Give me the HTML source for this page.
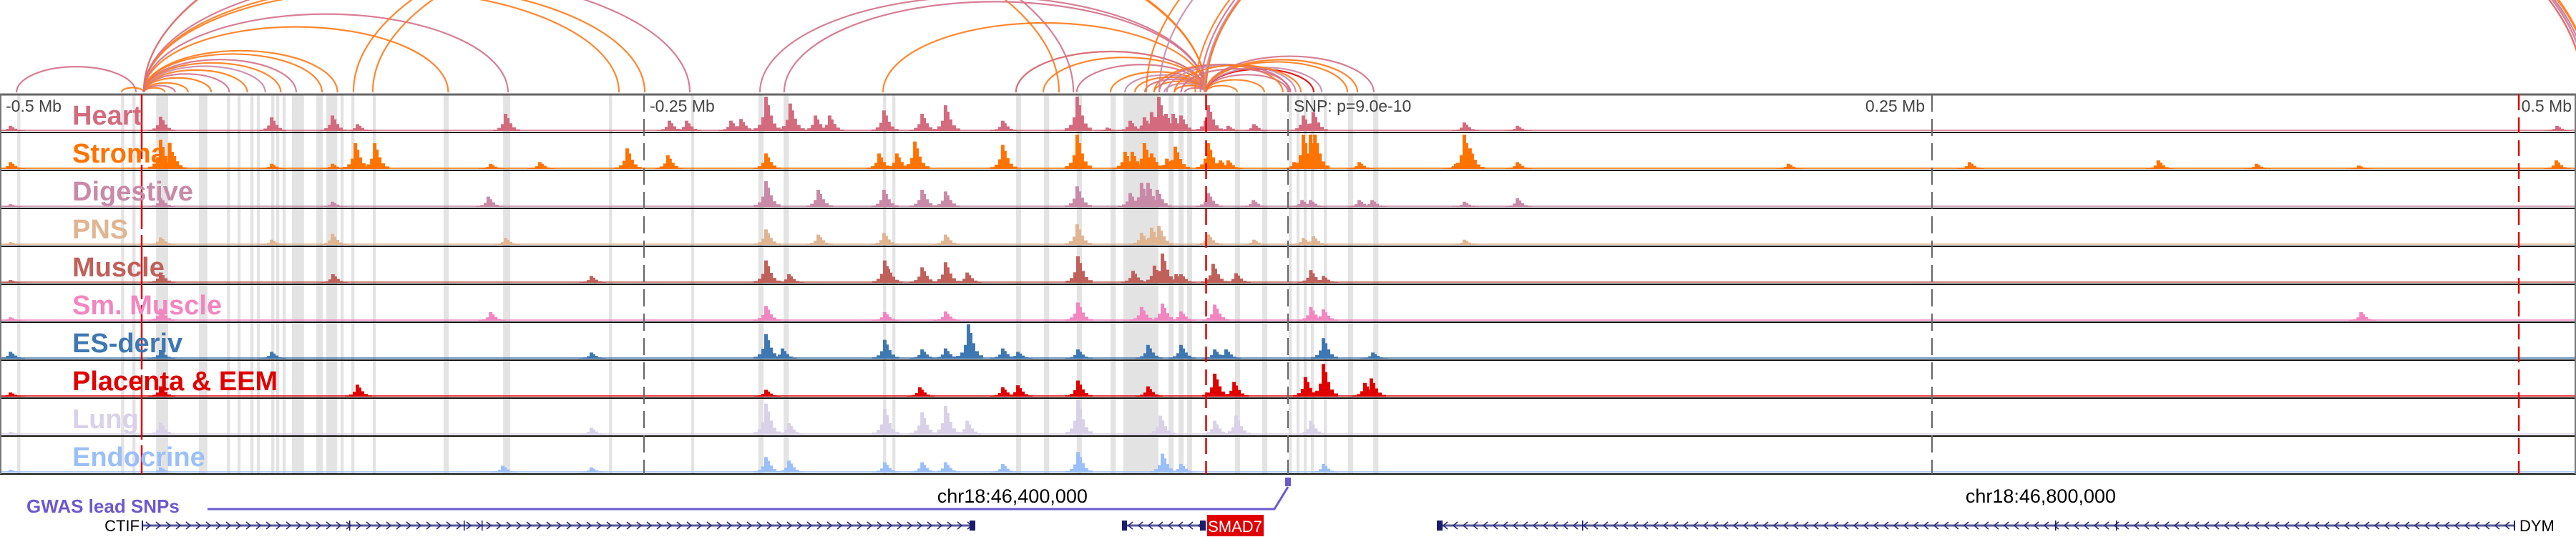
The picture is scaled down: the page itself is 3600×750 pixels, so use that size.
<!DOCTYPE html>
<html><head><meta charset="utf-8"><style>
html,body{margin:0;padding:0;background:#fff;}
svg{display:block;font-family:"Liberation Sans",Arial,sans-serif;}
</style></head><body>
<svg id="chart" width="3600" height="750" viewBox="0 0 3600 750" xmlns="http://www.w3.org/2000/svg">
<g id="highlights"></g>
<g id="signals"></g>
<g id="arcs"></g>
<g id="frames"></g>
<g id="vlines"></g>
<g id="labels"></g>
<g id="ticks"></g>
<g id="bottom"></g>
</svg>
<script>
// ---------- data (positions in kb relative to lead SNP) ----------
const trackNames = ["Heart","Stromal","Digestive","PNS","Muscle","Sm. Muscle","ES-deriv","Placenta & EEM","Lung","Endocrine"];
const trackColors = ["#d46a7e","#ff7300","#c98aa8","#e0b591","#c0605a","#f286c0","#3e78b2","#e00000","#d9d1e8","#9bbff8"];
const heartPeaks = [[-495.8,.15],[-437.5,.42],[-394.4,.4],[-370.8,.45],[-361.1,.2],[-303.6,.5],[-240,.3],[-233.3,.3],[-216.1,.3],[-212.2,.35],[-202.5,1],[-193.1,.8],[-183.3,.45],[-177.8,.45],[-156.7,.6],[-141.9,.5],[-132.8,.75],[-110.6,.3],[-81.7,1],[-70,.1],[-61.1,.3],[-55.6,.4],[-52.8,.55],[-50,1],[-47.2,.5],[-44.4,.5],[-41.4,.45],[-30.8,.75],[-23.1,.15],[-13.1,.2],[6.1,.45],[10,.55],[68.6,.25],[89.2,.15],[492.8,.15]];
const stromalPeaks = [[-495.8,.2],[-437.5,.85],[-433,.5],[-394.4,.15],[-370.8,.15],[-361.9,.75],[-354.4,.75],[-309.4,.15],[-290.3,.2],[-256.4,.6],[-240.6,.4],[-202.5,.45],[-158.6,.45],[-151.7,.45],[-144.7,.8],[-110.6,.7],[-81.7,1],[-63.1,.5],[-60.3,.5],[-55.6,.75],[-52.8,.45],[-46.9,.3],[-43.6,.65],[-30.8,.75],[-26.1,.25],[-23.1,.25],[2.5,.2],[6.1,1],[8.9,1],[10.6,1],[27.8,.2],[65.3,.15],[68.6,1],[70.8,.6],[89.2,.2],[194.4,.15],[264.7,.2],[338,.25],[376.1,.15],[415.8,.1],[492.5,.25]];
const digestivePeaks = [[-495.8,.08],[-437.5,.26],[-370.8,.15],[-310.3,.3],[-202.5,.75],[-182.2,.5],[-156.7,.5],[-141.9,.5],[-132.8,.45],[-81.7,.6],[-61.1,.4],[-56.7,.7],[-54.2,.7],[-50.6,.5],[-30.8,.4],[-13.3,.2],[5.6,.2],[8.9,.2],[27.8,.2],[32.8,.2],[68.6,.15],[89.2,.25]];
const pnsPeaks = [[-495.8,.08],[-437.5,.22],[-394.4,.15],[-370.8,.32],[-303.6,.2],[-202.5,.45],[-182.2,.3],[-156.7,.35],[-132.8,.3],[-81.7,.6],[-56.7,.35],[-52.8,.5],[-50,.55],[-30.8,.3],[-13.1,.15],[6.1,.2],[10,.25],[68.6,.15]];
const musclePeaks = [[-495.8,.08],[-437.5,.3],[-370.6,.25],[-270.3,.2],[-202.5,.65],[-193.6,.25],[-156.4,.65],[-155,.4],[-141.9,.45],[-132.8,.6],[-124.4,.3],[-81.4,.77],[-60,.35],[-51.7,.5],[-48.6,.85],[-43.3,.25],[-41.4,.25],[-28.9,.55],[-20,.28],[9,.37],[13.9,.2]];
const smMusclePeaks = [[-495.8,.1],[-437.5,.35],[-309.4,.25],[-202.5,.43],[-156.4,.25],[-132.8,.27],[-81.4,.53],[-56.7,.4],[-48.6,.5],[-41.4,.27],[-28.3,.47],[9,.4],[13.9,.33],[416.7,.25]];
const esPeaks = [[-495.8,.2],[-437.5,.25],[-394.4,.2],[-270.3,.18],[-202.5,.72],[-196.1,.3],[-156.4,.55],[-141.9,.27],[-132.8,.3],[-123.9,1],[-110.6,.3],[-104.7,.2],[-81.4,.27],[-54.2,.4],[-41.4,.4],[-28.3,.27],[-23.9,.27],[13.9,.6],[33.1,.18]];
const placentaPeaks = [[-495.8,.12],[-437.5,.3],[-361.1,.35],[-202.5,.2],[-142.8,.27],[-110.6,.27],[-104.7,.33],[-81.4,.47],[-54.2,.3],[-28.3,.67],[-20.8,.43],[6.9,.57],[13.9,.95],[30,.4],[32.5,.53]];
const lungPeaks = [[-495.8,.08],[-437.5,.35],[-270.3,.2],[-202.5,.9],[-193.6,.33],[-156.4,.75],[-141.9,.65],[-132.8,.83],[-124.4,.4],[-81.4,1],[-49.4,.55],[-28.3,.4],[-20,.55],[9,.4]];
const endocrinePeaks = [[-495.8,.08],[-437.5,.15],[-270.3,.15],[-304.7,.2],[-202.5,.45],[-193.6,.35],[-156.4,.3],[-141.9,.3],[-132.8,.3],[-110.6,.25],[-81.4,.6],[-48.6,.55],[-41.4,.25],[13.9,.25]];
const allPeaks = [heartPeaks,stromalPeaks,digestivePeaks,pnsPeaks,musclePeaks,smMusclePeaks,esPeaks,placentaPeaks,lungPeaks,endocrinePeaks];
const highlightStarts = [-493.3,-453,-448.6,-439.4,-422.8,-411.9,-407.8,-402.8,-400.3,-394.7,-392.8,-390.3,-386.7,-377.2,-373.3,-367.8,-363.6,-355.3,-327.8,-304.7,-263.6,-327.5,-231.7,-205.6,-195.8,-157.2,-153.6,-105.6,-94.7,-82,-68.9,-63.9,-46.4,-42.5,-39.2,-20.6,-10,0.3,3.3,6.1,8.9,13.9,23.3,33.1];
const highlightWidths = [1.2,1.2,1.2,4.7,3.3,1.2,1.2,1.2,1.2,1.2,1.2,1.2,4.7,2.5,4.2,1.2,1.2,1.2,2,2.8,1.2,1.2,1.2,2,2,1.2,1.2,2,2,2,2,13.6,2,2,2,2,2,1.2,1.2,1.2,1.2,1.2,2,2];
const arcStarts = [-493.6,-452.8,-444.2,-444.2,-444.2,-444.2,-444.2,-444.2,-444.2,-444.2,-444.2,-444.2,-444.2,-444.2,-444.2,-444.2,-444.2,-444.2,-444.2,-444.2,-362.8,-355.3,-205,-195.6,-157.2,-105.6,-105.6,-95,-82,-68.9,-63.3,-59.4,-55.6,-52,-48,-44.2,-40,-31.9,-31.9,-31.9,-31.9,-31.9,-31.9,-31.9,-31.9,-52,-50,-47,-44,-41.5,-36,-34,-32.5,-31.9,-31.9,-50,-55];
const arcEnds = [-447.2,-444.2,-436,-432,-427,-418,-411,-404,-397,-391,-385,-375,-369,-326,-302.8,-259.7,-249.7,-232.2,-88.9,-83.3,-31.9,-31.9,-31.9,-31.9,-31.9,-31.9,-31.9,-31.9,-31.9,-31.9,-31.9,-31.9,-31.9,-31.9,-31.9,-31.9,-31.9,-19.7,-9.2,0,10,13.1,23.1,33.3,27,-2,0.5,3,5,1,502.8,505,504,503,506,504,506];
const arcColor = [0,1,1,0,1,1,0,1,2,1,0,1,1,1,0,1,1,0,1,0,1,1,0,0,1,1,0,1,0,1,2,1,0,1,2,1,0,1,1,0,7,2,1,0,1,1,0,2,1,0,1,0,2,0,1,2,1];
const tickLabels = ["-0.5 Mb","-0.25 Mb","SNP: p=9.0e-10","0.25 Mb","0.5 Mb"];
const tickKb = [-500,-250,0,250,500];
const chromLabels = ["chr18:46,400,000","chr18:46,800,000"];
const chromLabelEndKb = [-77.8,321.4];
const markerKb = [-445,-31.8,477.8];

// ---------- scales ----------
const W = 3600, KBMIN = -500, KBMAX = 500;
const xs = kb => (kb - KBMIN) / (KBMAX - KBMIN) * W;
const TOP = 132, TH = 53, PH = 48;
const NS = "http://www.w3.org/2000/svg";
function mk(tag, attrs, parent){const e=document.createElementNS(NS,tag);for(const k in attrs)e.setAttribute(k,attrs[k]);parent.appendChild(e);return e;}

const gH = document.getElementById('highlights');
highlightStarts.forEach((s,i)=>{
  const r = mk('rect',{x:xs(s),y:TOP,width:Math.max(3,xs(s+highlightWidths[i])-xs(s)),height:TH*10,fill:'#e3e3e3'},gH);
  
  
});

const gS = document.getElementById('signals');
allPeaks.forEach((peaks,t)=>{
  const base = TOP + TH*(t+1) - 2;
  const g = mk('g',{fill:trackColors[t]},gS);
  
  
  mk('rect',{x:0,y:base-2,width:W,height:2,opacity:0.75},g);
  peaks.forEach(p=>{
    const x = xs(p[0]), H = p[1]*PH;
    const d = `M${x-18},${base} V${base-0.08*H} H${x-12} V${base-0.18*H} H${x-7} V${base-0.4*H} H${x-3} V${base-H} H${x+2} V${base-0.75*H} H${x+5} V${base-0.45*H} H${x+9} V${base-0.22*H} H${x+14} V${base-0.1*H} H${x+20} V${base} Z`;
    const pa = mk('path',{d:d},g);
    
    
  });
});

const gA = document.getElementById('arcs');
const arcPal = ["#d4708a","#ff7a1a","#c98aa8","#000","#000","#000","#000","#e00000"];
const ABASE = 129;
arcStarts.forEach((s,i)=>{
  const x1 = xs(s), x2 = xs(arcEnds[i]);
  const rx = Math.abs(x2-x1)/2, ry = rx*0.43;
  const a = mk('path',{d:`M${x1},${ABASE} A${rx},${ry} 0 0 1 ${x2},${ABASE}`,fill:'none',stroke:arcPal[arcColor[i]],'stroke-width':2.2,opacity:0.9},gA);
  
  
});

const gF = document.getElementById('frames');
for(let t=0;t<10;t++){
  const y = TOP+TH*t;
  const l = mk('line',{x1:0,x2:W,y1:y+TH,y2:y+TH,stroke:'#111','stroke-width':2},gF);
  
  
}
mk('line',{x1:0,x2:W,y1:TOP,y2:TOP,stroke:'#666','stroke-width':3},gF);
mk('line',{x1:1,x2:1,y1:TOP,y2:TOP+TH*10,stroke:'#777','stroke-width':2},gF);
mk('line',{x1:W-1,x2:W-1,y1:TOP,y2:TOP+TH*10,stroke:'#777','stroke-width':2},gF);

const gV = document.getElementById('vlines');
[-250,0,250].forEach(k=>{
  const l = mk('line',{x1:xs(k),x2:xs(k),y1:TOP,y2:TOP+TH*10,stroke:'#666','stroke-width':2,'stroke-dasharray':'24 10'},gV);
  
  
});
markerKb.forEach((k,i)=>{
  const l = mk('line',{x1:xs(k),x2:xs(k),y1:TOP,y2:TOP+TH*10,stroke:'#e00000','stroke-width':2.5,'stroke-dasharray':i==0?'90 8':'22 10'},gV);
  
  
});

const gL = document.getElementById('labels');
trackNames.forEach((n,t)=>{
  const tx = mk('text',{x:101,y:TOP+TH*t+42,'font-size':38,'font-weight':'bold',fill:trackColors[t]},gL);
  tx.textContent = n;
  
  
});

const gT = document.getElementById('ticks');
tickLabels.forEach((lab,i)=>{
  let x = xs(tickKb[i]), anchor='start';
  if(i===0) x = 8; else if(i===1||i===2) x += 8; else {x -= 10; anchor='end';}
  if(i===4) x = W-6;
  const tx = mk('text',{x:x,y:TOP+24,'font-size':23,fill:'#444','text-anchor':anchor},gT);
  tx.textContent = lab;
  
  
});

const gB = document.getElementById('bottom');
let t1 = mk('text',{x:37,y:716,'font-size':26,'font-weight':'bold',fill:'#6a5acd'},gB);
t1.textContent='GWAS lead SNPs';  
const snpX = xs(0);
let gw = mk('path',{d:`M290,711 H${snpX-19} L${snpX},680`,fill:'none',stroke:'#6a5acd','stroke-width':3},gB);
 
let sr = mk('rect',{x:snpX-4,y:667,width:8,height:12,fill:'#6a5acd'},gB);
 
chromLabels.forEach((c,i)=>{
  const tx = mk('text',{x:xs(chromLabelEndKb[i]),y:702,'font-size':27,fill:'#000','text-anchor':'end'},gB);
  tx.textContent=c;  
});
// genes
const GY = 734;
function gene(name, x1, x2, dir, exons){
  const g = mk('g',{},gB);
  
  
  mk('line',{x1:x1,x2:x2,y1:GY,y2:GY,stroke:'#5a5a9a','stroke-width':3},g);
  let d='';
  for(let x=x1+6;x<x2-6;x+=14){
    d += dir>0 ? `M${x},${GY-5} L${x+6},${GY} L${x},${GY+5} ` : `M${x+6},${GY-5} L${x},${GY} L${x+6},${GY+5} `;
  }
  mk('path',{d:d,fill:'none',stroke:'#2a2a7a','stroke-width':1.6},g);
  exons.forEach(e=>mk('rect',{x:e[0],y:GY-e[2]/2,width:e[1],height:e[2],fill:'#1c1c6e'},g));
  return g;
}
gene('CTIF',198,1360,1,[[198,2,14],[488,1.5,14],[648,1.5,14],[673,1.5,14],[1355,8,14]]);
gene('SMAD7',1571,1685,-1,[[1568,7,14],[1677,8,14]]);
gene('DYM',2011,3515,-1,[[2008,8,14],[2211,1.5,14],[2872,1.5,14],[2957,1.5,14],[3513,2,14]]);
let ct = mk('text',{x:195,y:742,'font-size':22,fill:'#000','text-anchor':'end'},gB);
ct.textContent='CTIF';  
let sb = mk('rect',{x:1687,y:719,width:79,height:30,fill:'#e00000'},gB);
 
let st = mk('text',{x:1726,y:743,'font-size':22,fill:'#fff','text-anchor':'middle'},gB);
st.textContent='SMAD7';  
let dt = mk('text',{x:3521,y:742,'font-size':22,fill:'#000'},gB);
dt.textContent='DYM';  
</script>
</body></html>
